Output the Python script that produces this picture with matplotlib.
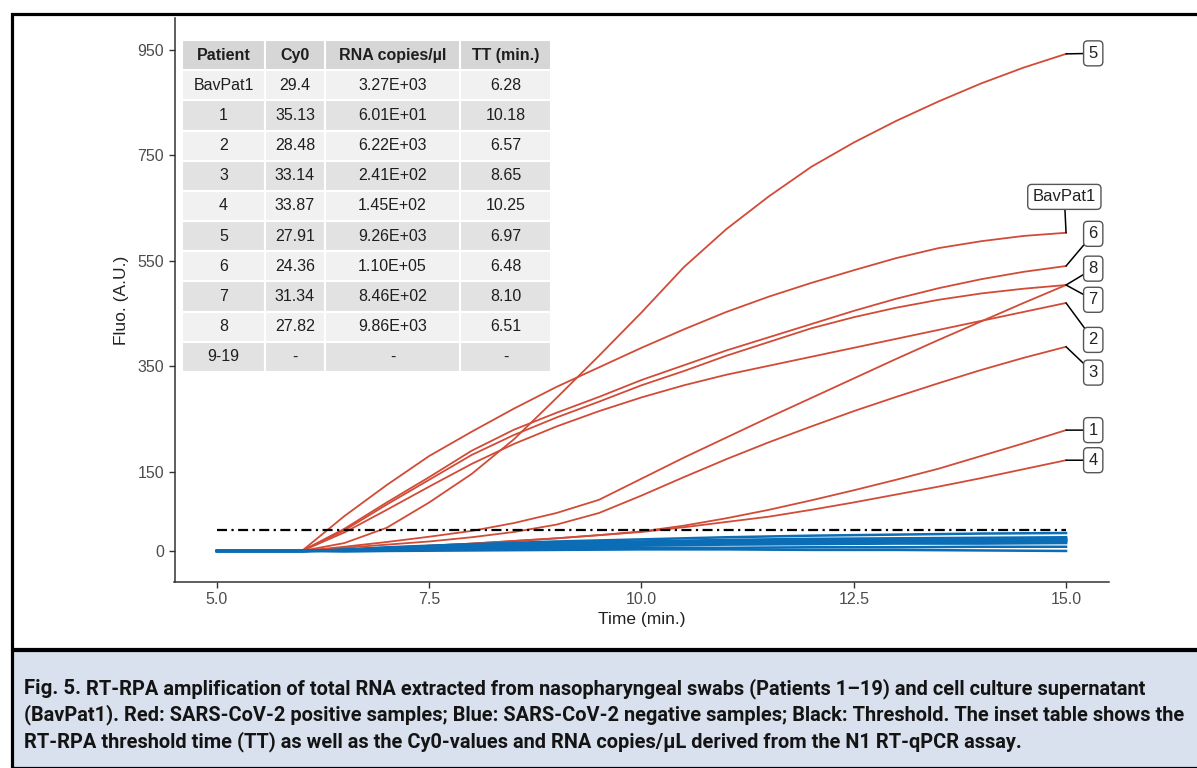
import matplotlib
matplotlib.use("Agg")
import matplotlib.pyplot as plt
from matplotlib import font_manager as fm
from matplotlib.patches import Rectangle

# --- data -------------------------------------------------------------
t_pos = [6.0, 6.5, 7.0, 7.5, 8.0, 8.5, 9.0, 9.5, 10.0, 10.5,
         11.0, 11.5, 12.0, 12.5, 13.0, 13.5, 14.0, 14.5, 15.0]

bavpat1 = [0, 66, 125, 180, 226, 270, 311, 348, 385, 420, 453, 482, 508, 532, 555, 574, 587, 597, 603]
pat1 = [0, 3, 6, 10, 14, 19, 24, 30, 37, 48, 62, 78, 96, 115, 135, 156, 180, 204, 229]
pat2 = [0, 35, 78, 122, 165, 203, 236, 265, 291, 314, 334, 351, 368, 385, 402, 419, 436, 453, 470]
pat3 = [0, 6, 12, 18, 26, 36, 50, 72, 105, 140, 174, 206, 236, 265, 292, 318, 343, 366, 387]
pat4 = [0, 3, 6, 10, 14, 19, 24, 30, 36, 45, 55, 65, 78, 92, 107, 122, 138, 155, 172]
pat5 = [0, 15, 44, 92, 146, 212, 290, 370, 452, 538, 610, 672, 728, 774, 815, 852, 886, 916, 942]
pat6 = [0, 42, 92, 140, 190, 230, 262, 292, 324, 352, 380, 405, 430, 455, 478, 498, 515, 529, 540]
pat7 = [0, 8, 17, 27, 38, 53, 72, 97, 137, 177, 215, 253, 290, 327, 364, 400, 435, 470, 504]
pat8 = [0, 39, 88, 135, 182, 220, 253, 283, 314, 341, 370, 396, 422, 443, 461, 476, 488, 497, 504]

positives = {"BavPat1": bavpat1, "1": pat1, "2": pat2, "3": pat3, "4": pat4,
             "5": pat5, "6": pat6, "7": pat7, "8": pat8}

# negatives (patients 9-19)
t_neg = [5, 6, 6.5, 7, 8, 9, 10, 11, 12, 13, 14, 15]
negatives = [
    [0, 0, 1, 3, 6, 9, 12, 14, 16, 17, 18, 20],
    [0, 0, 2, 5, 9, 13, 16, 18, 20, 21, 22, 22],
    [0, 0, 1, 4, 8, 11, 14, 16, 17, 18, 18, 19],
    [0, 0, 2, 6, 11, 15, 18, 21, 23, 24, 25, 26],
    [0, 0, 1, 3, 6, 8, 10, 12, 13, 14, 14, 15],
    [0, 0, 2, 5, 10, 14, 17, 19, 21, 22, 23, 24],
    [0, 0, 1, 2, 4, 5, 6, 6, 7, 7, 8, 8],
    [0, 0, -1, 0, 1, 2, 3, 3, 2, 2, 1, 0],
    [0, 0, 2, 7, 13, 18, 22, 26, 29, 31, 33, 34],
    [0, 0, 1, 4, 7, 10, 13, 15, 16, 17, 17, 17],
    [0, 0, 2, 5, 9, 12, 15, 17, 18, 19, 20, 21],
]

threshold = 40

table_cols = ["Patient", "Cy0", "RNA copies/µl", "TT (min.)"]
table_patient = ["BavPat1", "1", "2", "3", "4", "5", "6", "7", "8", "9-19"]
table_cy0 = ["29.4", "35.13", "28.48", "33.14", "33.87", "27.91", "24.36", "31.34", "27.82", "-"]
table_rna = ["3.27E+03", "6.01E+01", "6.22E+03", "2.41E+02", "1.45E+02",
             "9.26E+03", "1.10E+05", "8.46E+02", "9.86E+03", "-"]
table_tt = ["6.28", "10.18", "6.57", "8.65", "10.25", "6.97", "6.48", "8.10", "6.51", "-"]

caption_head = "Fig. 5."
caption_lines = [
    " RT-RPA amplification of total RNA extracted from nasopharyngeal swabs (Patients 1\u201319) and cell culture supernatant",
    "(BavPat1). Red: SARS-CoV-2 positive samples; Blue: SARS-CoV-2 negative samples; Black: Threshold. The inset table shows the",
    "RT-RPA threshold time (TT) as well as the Cy0-values and RNA copies/\u03bcL derived from the N1 RT-qPCR assay.",
]

# label placement (data coords) for the repelled labels
label_pos = {"5": (15.32, 943), "BavPat1": (14.98, 671), "6": (15.32, 601),
             "8": (15.32, 535), "7": (15.32, 476), "2": (15.32, 400),
             "3": (15.32, 338), "1": (15.32, 229), "4": (15.32, 172)}

# --- style --------------------------------------------------------------
RED = "#d14b37"
BLUE = "#0a6db5"
W, H = 1197, 768
names = {f.name for f in fm.fontManager.ttflist}
body_font = "Liberation Sans" if "Liberation Sans" in names else "DejaVu Sans"
cap_font = "Roboto" if "Roboto" in names else body_font
plt.rcParams["font.family"] = [body_font, "DejaVu Sans"]

fig = plt.figure(figsize=(W / 100, H / 100), dpi=100)

# frame + caption box
fig.patches.append(Rectangle((12 / W, 1 - 648.5 / H), 1.0, (648.5 - 13.5) / H,
                             transform=fig.transFigure, fill=False, ec="black", lw=2.3))
fig.patches.append(Rectangle((12 / W, 0), 1.0, 1 - 650 / H, transform=fig.transFigure,
                             fc="#d9e1ee", ec="black", lw=2.3))

ax = fig.add_axes([174.5 / W, (H - 582) / H, 934 / W, 564 / H])

for name, vals in positives.items():
    ax.plot(t_pos, vals, color=RED, lw=1.3, zorder=2)
for vals in negatives:
    ax.plot(t_neg, vals, color=BLUE, lw=1.8, zorder=3)
ax.plot([5, 15], [threshold, threshold], color="black", lw=1.6,
        ls=(0, (4.5, 2, 1, 2)), zorder=4)

ax.set_xlim(4.5, 15.5)
ax.set_ylim(-58.8, 1010)
ax.set_xticks([5, 7.5, 10, 12.5, 15])
ax.set_xticklabels(["5.0", "7.5", "10.0", "12.5", "15.0"])
ax.set_yticks([0, 150, 350, 550, 750, 950])
ax.tick_params(labelsize=11.5, colors="#333333", length=4, width=1, labelcolor="#4d4d4d")
for s in ["top", "right"]:
    ax.spines[s].set_visible(False)
for s in ["left", "bottom"]:
    ax.spines[s].set_color("#333333")
    ax.spines[s].set_linewidth(1.1)
ax.set_xlabel("Time (min.)", fontsize=12.5, color="#222222", labelpad=3)
ax.set_ylabel("Fluo. (A.U.)", fontsize=12.5, color="#222222", labelpad=6)

# end-of-line labels
for name, vals in positives.items():
    ax.annotate(name, xy=(t_pos[-1], vals[-1]), xytext=label_pos[name],
                ha="center", va="center", fontsize=12, color="#222222",
                bbox=dict(boxstyle="round,pad=0.3,rounding_size=0.25", fc="white",
                          ec="#555555", lw=1),
                arrowprops=dict(arrowstyle="-", color="black", lw=1.1,
                                shrinkA=0, shrinkB=0), zorder=6)

# inset table
rows = [list(r) for r in zip(table_patient, table_cy0, table_rna, table_tt)]
shade = ["#f1f1f1" if i % 2 == 0 else "#e2e2e2" for i in range(len(rows))]
tbl = ax.table(cellText=rows, colLabels=table_cols,
               cellColours=[[c] * 4 for c in shade],
               colColours=["#d6d6d6"] * 4,
               colWidths=[83, 60, 135, 91], cellLoc="center",
               bbox=[7.5 / 934, (582 - 372) / 564, 369 / 934, 332 / 564], zorder=5)
tbl.auto_set_font_size(False)
for (r, c), cell in tbl.get_celld().items():
    cell.set_edgecolor("white")
    cell.set_linewidth(1.5)
    cell.get_text().set_fontsize(11.5)
    cell.get_text().set_color("#1e1e1e")
    if r == 0:
        cell.get_text().set_fontweight("bold")

# caption: size picked so that the widest line fits the caption box
renderer = fig.canvas.get_renderer()
x_left, x_right = 24, 1188
y_lines = [694, 720, 747]
cap_kw = dict(family=[cap_font, "DejaVu Sans"], color="#141414", va="baseline", weight="bold")


def draw_caption(size):
    out = []
    t0 = fig.text(x_left / W, 1 - y_lines[0] / H, caption_head, fontsize=size * 1.02, **cap_kw)
    bb = t0.get_window_extent(renderer)
    out.append(t0)
    out.append(fig.text(bb.x1 / W, 1 - y_lines[0] / H, caption_lines[0], fontsize=size, **cap_kw))
    out.append(fig.text(x_left / W, 1 - y_lines[1] / H, caption_lines[1], fontsize=size, **cap_kw))
    out.append(fig.text(x_left / W, 1 - y_lines[2] / H, caption_lines[2], fontsize=size, **cap_kw))
    return out


size = 15
for _ in range(2):
    texts = draw_caption(size)
    right = max(t.get_window_extent(renderer).x1 for t in texts)
    for t in texts:
        t.remove()
    size = size * (x_right - x_left) / (right - x_left)
draw_caption(size)

fig.savefig("out.png", dpi=100)
